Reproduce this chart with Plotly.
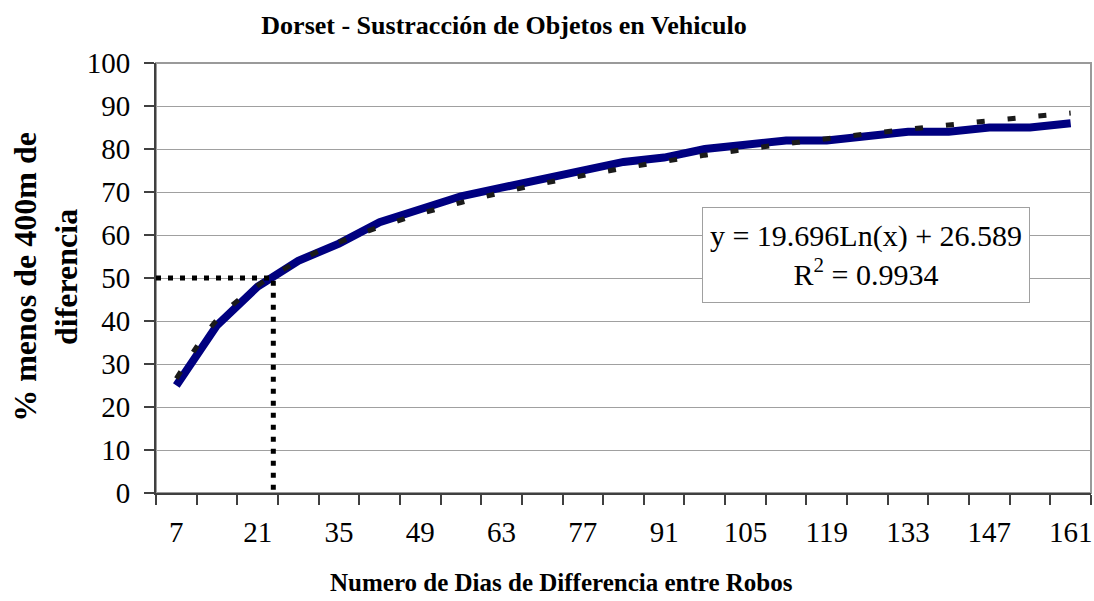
import math

import plotly.graph_objects as go

# days between robberies (categories) and % of pairs under 400m
DAYS = [7, 14, 21, 28, 35, 42, 49, 56, 63, 70, 77, 84, 91, 98, 105, 112,
        119, 126, 133, 140, 147, 154, 161]
PCT = [25, 39, 48, 54, 58, 63, 66, 69, 71, 73, 75, 77, 78, 80, 81, 82,
       82, 83, 84, 84, 85, 85, 86]
TICK_DAYS = DAYS[::2]

# logarithmic trendline shown on the chart (x = category number)
TREND_A = 19.696
TREND_B = 26.589
R2 = 0.9934

# 50% reference and the day where the trend reaches it
REF_PCT = 50
REF_DAY = 23.7

FONT = "Liberation Serif, Times New Roman, serif"
step = DAYS[1] - DAYS[0]
x_lo = DAYS[0] - step / 2
x_hi = DAYS[-1] + step / 2
bounds = [x_lo + step * i for i in range(len(DAYS) + 1)]
trend = [TREND_A * math.log(i + 1) + TREND_B for i in range(len(DAYS))]

fig = go.Figure()
fig.add_scatter(
    x=DAYS, y=PCT, mode="lines",
    line={"color": "#000080", "width": 8},
    hoverinfo="skip",
)
fig.add_scatter(
    x=DAYS, y=trend, mode="lines",
    line={"color": "#1a1a1a", "width": 5, "dash": "8px,23px", "shape": "spline"},
    hoverinfo="skip",
)
fig.add_scatter(
    x=[x_lo, REF_DAY, REF_DAY], y=[REF_PCT, REF_PCT, 0], mode="lines",
    line={"color": "black", "width": 5, "dash": "5px,7px"},
    hoverinfo="skip", cliponaxis=False,
)

fig.add_shape(type="rect", xref="paper", yref="paper", x0=0, x1=1, y0=0, y1=1,
              line={"color": "#9a9a9a", "width": 2}, layer="below")

fig.add_annotation(
    x=125.7, y=55.3, xref="x", yref="y", showarrow=False,
    text=f"y = {TREND_A}Ln(x) + {TREND_B}<br>R<sup>2</sup> = {R2}",
    font={"family": FONT, "size": 30, "color": "black"},
    width=318, height=86,
    bgcolor="white", bordercolor="#a0a0a0", borderwidth=1, borderpad=4,
)

# axis titles placed as annotations to follow the original offsets
fig.add_annotation(
    x=0.434, y=-0.209, xref="paper", yref="paper", showarrow=False,
    xanchor="center", yanchor="middle",
    text="<b>Numero de Dias de Differencia entre Robos</b>",
    font={"family": FONT, "size": 25, "color": "black"},
)
fig.add_annotation(
    x=-0.118, y=0.502, xref="paper", yref="paper", showarrow=False,
    xanchor="center", yanchor="middle", textangle=-90,
    text="<b>% menos de 400m de<br>diferencia</b>",
    font={"family": FONT, "size": 32, "color": "black"},
)

fig.update_layout(
    width=1094, height=601,
    margin={"l": 156, "r": 3, "t": 63, "b": 108},
    paper_bgcolor="white", plot_bgcolor="white",
    showlegend=False,
    font={"family": FONT, "color": "black"},
    title={
        "text": "<b>Dorset - Sustracción de Objetos en Vehiculo</b>",
        "font": {"size": 26, "family": FONT},
        "x": 0.4607, "xanchor": "center", "y": 0.958, "yanchor": "middle",
    },
)
fig.update_xaxes(
    range=[x_lo, x_hi], tickmode="array", tickvals=TICK_DAYS,
    ticks="", tickfont={"size": 29}, ticklabelstandoff=12,
    minor={"tickmode": "array", "tickvals": bounds, "ticks": "outside",
           "ticklen": 10, "tickcolor": "#404040", "tickwidth": 1.5,
           "showgrid": False},
    showgrid=False, zeroline=False,
    showline=True, linecolor="#404040", linewidth=2,
)
fig.update_yaxes(
    range=[0, 100], dtick=10, tickfont={"size": 29},
    ticks="outside", ticklen=10, tickcolor="#404040", tickwidth=1.5,
    ticklabelstandoff=8,
    showgrid=True, gridcolor="#a0a0a0", gridwidth=1, zeroline=False,
    showline=True, linecolor="#404040", linewidth=2,
)

fig.write_html("out.html", config={"displayModeBar": False},
               post_script="document.body.style.margin='0';")
